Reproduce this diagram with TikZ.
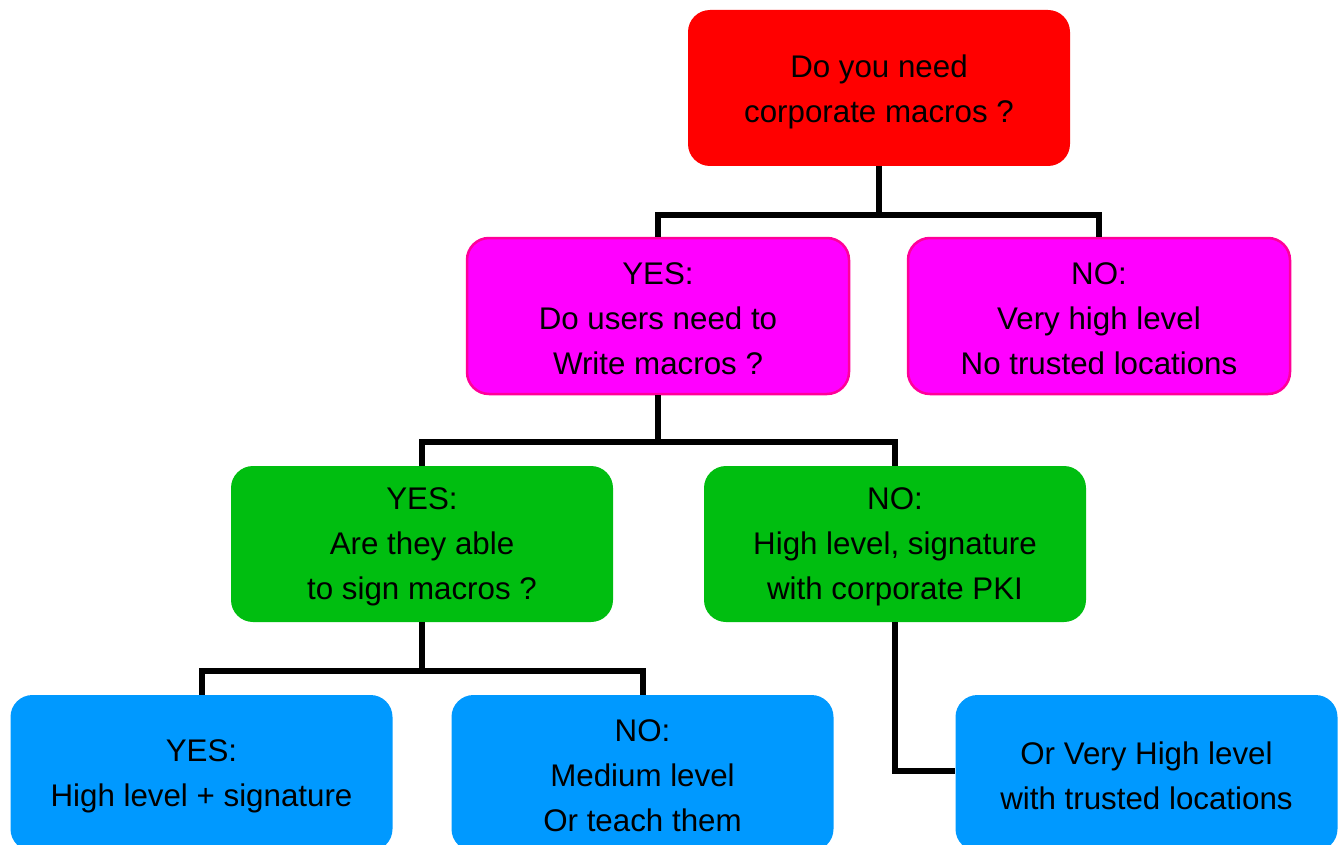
\documentclass[tikz,border=0pt]{standalone}
\usepackage{fontspec}
\setmainfont{Liberation Sans}
\definecolor{cred}{RGB}{255,0,0}
\definecolor{cmag}{RGB}{255,0,255}
\definecolor{cmagb}{RGB}{255,0,153}
\definecolor{cgreen}{RGB}{0,190,16}
\definecolor{cblue}{RGB}{0,153,255}
\tikzset{
  box/.style={rounded corners=22pt, minimum width=382pt, minimum height=156pt, inner sep=0pt},
  txt/.style={align=center, inner sep=0pt, font=\fontsize{31.3}{45}\selectfont},
  redbox/.style={box, fill=cred},
  magbox/.style={box, fill=cmag, draw=cmagb, line width=2.5pt},
  greenbox/.style={box, fill=cgreen},
  bluebox/.style={box, fill=cblue},
  conn/.style={line width=6pt, black}
}
\begin{document}
\begin{tikzpicture}[x=1pt,y=-1pt]
\useasboundingbox (0,0) rectangle (1338,845);
\clip (0,0) rectangle (1338,845);
\node[redbox] (q1) at (879,88) {};
\node[magbox] (q2) at (658,316) {};
\node[magbox] (n1) at (1099,316) {};
\node[greenbox] (q3) at (422,544) {};
\node[greenbox] (n2) at (895,544) {};
\node[bluebox] (y3) at (201.5,773) {};
\node[bluebox] (n3) at (642.5,773) {};
\node[bluebox] (o2) at (1146.5,773) {};
\node[txt] (q1t) at ([yshift=-3.5pt]q1.center) {Do you need\\corporate macros ?};
\node[txt] (q2t) at ([yshift=-3pt]q2.center) {YES:\\Do users need to\\Write macros ?};
\node[txt] (n1t) at ([yshift=-3pt]n1.center) {NO:\\Very high level\\No trusted locations};
\node[txt] (q3t) at ([yshift=-3pt]q3.center) {YES:\\Are they able\\to sign macros ?};
\node[txt] (n2t) at ([yshift=-3pt]n2.center) {NO:\\High level, signature\\with corporate PKI};
\node[txt] (y3t) at ([yshift=-3pt]y3.center) {YES:\\High level + signature};
\node[txt] (n3t) at ([yshift=-3pt]n3.center) {NO:\\Medium level\\Or teach them};
\node[txt] (o2t) at ([yshift=-3pt]o2.center) {Or Very High level\\with trusted locations};
\coordinate (j1) at (879,215);
\coordinate (j2) at (658,442);
\coordinate (j3) at (422,671);
\coordinate (j4) at (895,771);
\draw[conn] (q1.south) -- (j1);
\draw[conn] (q2.north) |- (j1) -| (n1.north);
\draw[conn] (q2.south) -- (j2);
\draw[conn] (q3.north) |- (j2) -| (n2.north);
\draw[conn] (q3.south) -- (j3);
\draw[conn] (y3.north) |- (j3) -| (n3.north);
\draw[conn] (n2.south) -- (j4) -- (j4 -| o2.west);
\end{tikzpicture}
\end{document}
